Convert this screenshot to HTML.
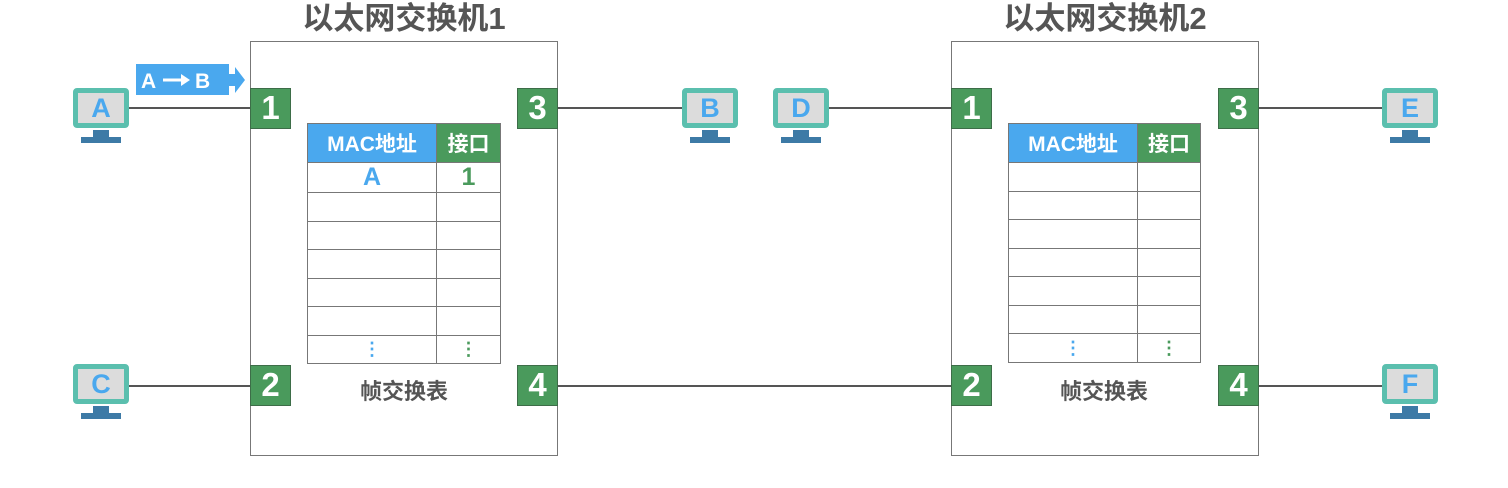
<!DOCTYPE html>
<html><head><meta charset="utf-8"><style>
body{margin:0;width:1508px;height:488px;background:#fff;position:relative;overflow:hidden;font-family:"Liberation Sans","Noto Sans CJK SC",sans-serif;}
.a{position:absolute;}
.ln{position:absolute;background:#555;height:2px;}
.sw{position:absolute;border:1.5px solid #777;box-sizing:border-box;}
.title{position:absolute;font-size:31px;font-weight:bold;color:#555;width:400px;text-align:center;top:0;line-height:38px;}
.port{position:absolute;width:41px;height:41px;background:#4a9a5c;border:1.5px solid #3d6d48;box-sizing:border-box;color:#fff;font-weight:bold;font-size:33px;text-align:center;line-height:38px;}
.pc{position:absolute;width:56px;height:56px;}
.pc .s{position:absolute;left:0;top:0;width:56px;height:40px;border:5px solid #5bbfae;border-radius:4px;background:#dcdcdc;box-sizing:border-box;color:#4aa8ee;font-weight:bold;font-size:27px;text-align:center;line-height:30px;}
.pc .n{position:absolute;left:20px;top:42px;width:16px;height:7px;background:#3d7aa6;}
.pc .b{position:absolute;left:8px;top:49px;width:40px;height:6px;background:#3d7aa6;}
table{position:absolute;border-collapse:collapse;}
td{border:1.5px solid #777;height:27px;padding:0;text-align:center;font-weight:bold;}
tr.r td{height:27.5px;}
.h1{background:#4aa8ee;color:#fff;font-size:21px;height:38px;}
.h2{background:#4a9a5c;color:#fff;font-size:21px;}
.cap{position:absolute;font-size:22px;font-weight:bold;color:#555;width:200px;text-align:center;}
.dots{font-size:18px;line-height:8px;}
</style></head><body>
<div class="title" style="left:204px">以太网交换机1</div>
<div class="title" style="left:905px">以太网交换机2</div>
<div class="sw" style="left:250px;top:41px;width:308px;height:415px"></div>
<div class="sw" style="left:951px;top:41px;width:308px;height:415px"></div>

<div class="ln" style="left:128px;top:107px;width:124px"></div>
<div class="ln" style="left:557px;top:107px;width:126px"></div>
<div class="ln" style="left:828px;top:107px;width:124px"></div>
<div class="ln" style="left:1258px;top:107px;width:124px"></div>
<div class="ln" style="left:128px;top:385px;width:124px"></div>
<div class="ln" style="left:557px;top:385px;width:395px"></div>
<div class="ln" style="left:1258px;top:385px;width:124px"></div>

<div class="port" style="left:250px;top:88px">1</div>
<div class="port" style="left:517px;top:88px">3</div>
<div class="port" style="left:250px;top:365px">2</div>
<div class="port" style="left:517px;top:365px">4</div>
<div class="port" style="left:951px;top:88px">1</div>
<div class="port" style="left:1218px;top:88px">3</div>
<div class="port" style="left:951px;top:365px">2</div>
<div class="port" style="left:1218px;top:365px">4</div>

<div class="pc" style="left:73px;top:88px"><div class="s">A</div><div class="n"></div><div class="b"></div></div>
<div class="pc" style="left:682px;top:88px"><div class="s">B</div><div class="n"></div><div class="b"></div></div>
<div class="pc" style="left:773px;top:88px"><div class="s">D</div><div class="n"></div><div class="b"></div></div>
<div class="pc" style="left:1382px;top:88px"><div class="s">E</div><div class="n"></div><div class="b"></div></div>
<div class="pc" style="left:73px;top:364px"><div class="s">C</div><div class="n"></div><div class="b"></div></div>
<div class="pc" style="left:1382px;top:364px"><div class="s">F</div><div class="n"></div><div class="b"></div></div>

<svg class="a" style="left:135px;top:63px" width="112" height="34">
<rect x="1" y="1" width="93" height="31" fill="#4aa8ee"/>
<polygon points="94,11 100,11 100,4 110,17 100,30 100,23 94,23" fill="#4aa8ee"/>
<text x="6" y="25" font-family="Liberation Sans" font-weight="bold" font-size="21" fill="#fff">A</text>
<line x1="28" y1="17" x2="48" y2="17" stroke="#fff" stroke-width="3"/>
<polygon points="46,11 55,17 46,23" fill="#fff"/>
<text x="60" y="25" font-family="Liberation Sans" font-weight="bold" font-size="21" fill="#fff">B</text>
</svg>

<table style="left:307px;top:123px;width:194px">
<tr><td class="h1" style="width:128px">MAC地址</td><td class="h2">接口</td></tr>
<tr class="r"><td style="color:#4aa8ee;font-size:25px">A</td><td style="color:#4a9a5c;font-size:25px">1</td></tr>
<tr class="r"><td></td><td></td></tr><tr class="r"><td></td><td></td></tr><tr class="r"><td></td><td></td></tr>
<tr class="r"><td></td><td></td></tr><tr class="r"><td></td><td></td></tr>
<tr class="r"><td style="color:#4aa8ee" class="dots">⋮</td><td style="color:#4a9a5c" class="dots">⋮</td></tr>
</table>
<table style="left:1008px;top:123px;width:193px">
<tr><td class="h1" style="width:128px">MAC地址</td><td class="h2">接口</td></tr>
<tr class="r"><td></td><td></td></tr>
<tr class="r"><td></td><td></td></tr><tr class="r"><td></td><td></td></tr><tr class="r"><td></td><td></td></tr>
<tr class="r"><td></td><td></td></tr><tr class="r"><td></td><td></td></tr>
<tr class="r"><td style="color:#4aa8ee" class="dots">⋮</td><td style="color:#4a9a5c" class="dots">⋮</td></tr>
</table>
<div class="cap" style="left:304px;top:374px">帧交换表</div>
<div class="cap" style="left:1004px;top:374px">帧交换表</div>
</body></html>
